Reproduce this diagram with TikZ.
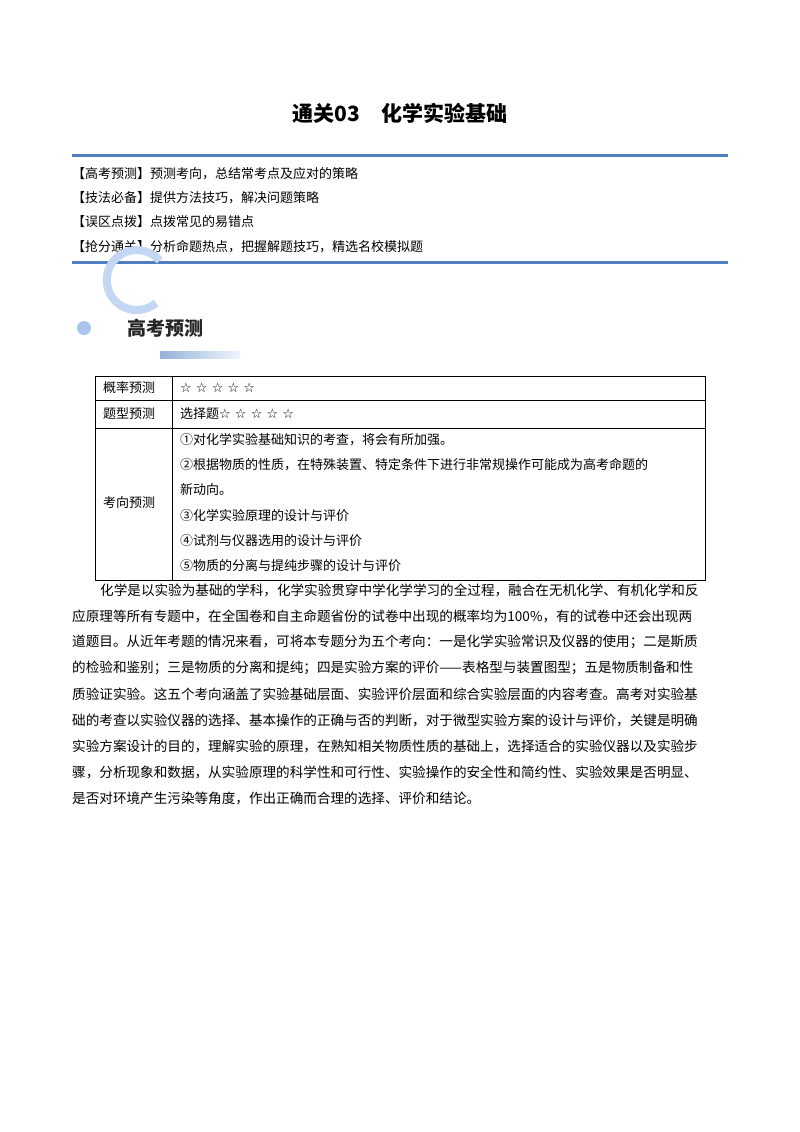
\documentclass[tikz,border=0pt]{standalone}
\usepackage{fontspec}
\setmainfont{Noto Sans CJK SC}
\newfontfamily\symf{DejaVu Sans}
\definecolor{bl}{HTML}{4F7FC0}
\definecolor{lb}{HTML}{A9C6EE}
\begin{document}
\begin{tikzpicture}[x=1pt,y=-1pt,
  ln/.style={anchor=west,inner sep=0pt,font=\fontsize{13}{13}\selectfont},
  pl/.style={anchor=west,inner sep=0pt,font=\fontsize{13.6}{13.6}\selectfont},
  tl/.style={anchor=west,inner sep=0pt,font=\fontsize{13}{13}\selectfont}]
\useasboundingbox (0,0) rectangle (800,1132);
\fill[white] (0,0) rectangle (800,1132);
\node[inner sep=0pt,font=\fontsize{21}{21}\selectfont\bfseries] (title) at (400,113) {通关03\quad 化学实验基础};
\draw[bl,line width=3pt] (72,155) -- (728,155);
\draw[bl,line width=3pt] (72,262) -- (728,262);
\node[ln] (h1) at (72,174) {【高考预测】预测考向，总结常考点及应对的策略};
\node[ln] (h2) at (72,198) {【技法必备】提供方法技巧，解决问题策略};
\node[ln] (h3) at (72,222) {【误区点拨】点拨常见的易错点};
\node[ln] (h4) at (72,247) {【抢分通关】分析命题热点，把握解题技巧，精选名校模拟题};
% icon
\draw[lb,line width=7pt] (150,355) arc (60:320:0pt) ;
\draw[line width=8pt,color=lb!70] (156,303) arc (50:320:30);
\shade[left color=lb,right color=lb!30] (77,321) circle (0pt);
\fill[lb] (84,328) circle (7);
\shade[left color=bl!60,right color=lb!20] (160,351) rectangle (240,358);
\node[anchor=west,inner sep=0pt,font=\fontsize{19}{19}\selectfont\bfseries,text=black!85] (icon) at (127,328) {高考预测};
% table
\draw[black,line width=0.6pt] (95,376) rectangle (705,580);
\draw[line width=0.6pt] (95,400) -- (705,400) (95,428) -- (705,428) (172,376) -- (172,580);
\node[tl] (a1) at (103,388) {概率预测};
\node[tl] (b1) at (180,388) {\symf ☆ ☆ ☆ ☆ ☆};
\node[tl] (a2) at (103,414) {题型预测};
\node[tl] (b2) at (180,414) {选择题{\symf ☆ ☆ ☆ ☆ ☆}};
\node[tl] (a3) at (103,503) {考向预测};
\node[tl] (c1) at (180,440) {①对化学实验基础知识的考查，将会有所加强。};
\node[tl] (c2) at (180,465) {②根据物质的性质，在特殊装置、特定条件下进行非常规操作可能成为高考命题的};
\node[tl] (c3) at (180,490) {新动向。};
\node[tl] (c4) at (180,516) {③化学实验原理的设计与评价};
\node[tl] (c5) at (180,541) {④试剂与仪器选用的设计与评价};
\node[tl] (c6) at (180,566) {⑤物质的分离与提纯步骤的设计与评价};
% paragraph
\node[pl] (p1) at (100,590) {化学是以实验为基础的学科，化学实验贯穿中学化学学习的全过程，融合在无机化学、有机化学和反};
\node[pl] (p2) at (72,616) {应原理等所有专题中，在全国卷和自主命题省份的试卷中出现的概率均为100\%，有的试卷中还会出现两};
\node[pl] (p3) at (72,642) {道题目。从近年考题的情况来看，可将本专题分为五个考向：一是化学实验常识及仪器的使用；二是斯质};
\node[pl] (p4) at (72,668) {的检验和鉴别；三是物质的分离和提纯；四是实验方案的评价——表格型与装置图型；五是物质制备和性};
\node[pl] (p5) at (72,694) {质验证实验。这五个考向涵盖了实验基础层面、实验评价层面和综合实验层面的内容考查。高考对实验基};
\node[pl] (p6) at (72,720) {础的考查以实验仪器的选择、基本操作的正确与否的判断，对于微型实验方案的设计与评价，关键是明确};
\node[pl] (p7) at (72,746) {实验方案设计的目的，理解实验的原理，在熟知相关物质性质的基础上，选择适合的实验仪器以及实验步};
\node[pl] (p8) at (72,772) {骤，分析现象和数据，从实验原理的科学性和可行性、实验操作的安全性和简约性、实验效果是否明显、};
\node[pl] (p9) at (72,798) {是否对环境产生污染等角度，作出正确而合理的选择、评价和结论。};
\end{tikzpicture}
\end{document}
